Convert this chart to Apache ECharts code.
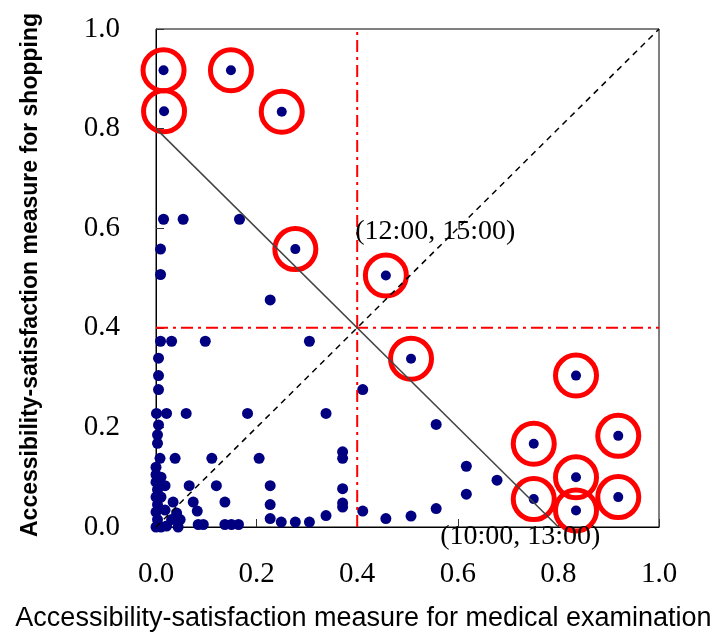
<!DOCTYPE html>
<html><head><meta charset="utf-8">
<script src="https://cdn.jsdelivr.net/npm/echarts@6/dist/echarts.min.js"></script>
<style>html,body{margin:0;padding:0;background:#fff}#c{width:718px;height:637px}</style>
</head><body><div id="c"></div>
<script>
const xTitle = 'Accessibility-satisfaction measure for medical examination';
const yTitle = 'Accessibility-satisfaction measure for shopping';
const tickValues = [0, 0.2, 0.4, 0.6, 0.8, 1.0];

const points = [
 [0.015,0.618],[0.054,0.618],[0.166,0.618],
 [0.009,0.558],[0.009,0.507],
 [0.227,0.456],
 [0.009,0.373],[0.031,0.373],[0.098,0.373],[0.305,0.373],
 [0.005,0.339],[0.005,0.304],[0.005,0.276],[0.411,0.276],
 [0.001,0.228],[0.021,0.228],[0.06,0.228],[0.182,0.228],[0.338,0.228],
 [0.005,0.205],[0.003,0.185],[0.003,0.168],
 [0.008,0.138],[0.038,0.138],[0.111,0.138],[0.205,0.138],[0.371,0.151],[0.371,0.138],
 [0.557,0.206],[0.617,0.122],[0.678,0.094],[0.617,0.066],[0.557,0.037],[0.507,0.022],
 [0.018,0.083],[0.066,0.083],[0.12,0.083],[0.227,0.083],[0.371,0.077],[0.371,0.048],[0.371,0.04],
 [0.034,0.05],[0.074,0.05],[0.082,0.032],[0.137,0.05],[0.227,0.045],[0.411,0.032],[0.457,0.017],
 [0.338,0.023],[0.227,0.017],[0.249,0.01],[0.277,0.01],[0.305,0.01],
 [0.084,0.005],[0.094,0.005],[0.137,0.005],[0.15,0.005],[0.164,0.005],
 [0.041,0.028],[0.031,0.015],[0.048,0.015],[0.021,0.002],[0.044,0.0],[0.018,0.034],
 [0.0,0.12],[0.0,0.105],[0.0,0.09],[0.003,0.075],[0.0,0.06],[0.003,0.045],[0.0,0.03],
 [0.003,0.015],[0.0,0.0],[0.01,0.0],[0.01,0.1],[0.01,0.06]
];
const circled = [
 [0.015,0.917],[0.016,0.835],[0.149,0.917],[0.25,0.834],[0.277,0.558],[0.457,0.505],
 [0.507,0.338],[0.835,0.304],[0.919,0.183],[0.751,0.167],[0.835,0.10],[0.751,0.056],
 [0.919,0.06],[0.835,0.033]
];
const diagonalLine = [[0,0],[1,1]];
const guideLine = [[0,0.8],[0.8,0]];
const vThreshold = [[0.4,0],[0.4,1]];
const hThreshold = [[0,0.4],[1,0.4]];
const annoText = ['(12:00, 15:00)', '(10:00, 13:00)'];
const annoPos = [[0.396,0.594],[0.565,-0.02]];

const chart = echarts.init(document.getElementById('c'));
const serif = '"Liberation Serif","Times New Roman",serif';
const sans = '"Liberation Sans",Arial,sans-serif';
const axisCommon = {
  type: 'value', min: 0, max: 1, interval: 0.2,
  splitLine: {show: false},
  axisLine: {show: true, lineStyle: {color: '#000', width: 1}},
  axisTick: {show: true, inside: true, length: 8, lineStyle: {color: '#333'}},
  axisLabel: {fontFamily: serif, fontSize: 29, color: '#000', formatter: v => v.toFixed(1)}
};
chart.setOption({
  animation: false,
  grid: {left: 156, right: 59, top: 29, bottom: 106, show: true, borderColor: '#000', borderWidth: 1},
  xAxis: Object.assign({}, axisCommon, {
    name: xTitle, nameLocation: 'middle', nameGap: 78,
    nameTextStyle: {fontFamily: sans, fontSize: 27, color: '#000', padding: [0, 88, 0, 0]},
    axisLabel: Object.assign({}, axisCommon.axisLabel, {margin: 33})
  }),
  yAxis: Object.assign({}, axisCommon, {
    name: yTitle, nameLocation: 'middle', nameGap: 114,
    nameTextStyle: {fontFamily: sans, fontSize: 23, fontWeight: 'bold', color: '#000', padding: [0, 0, 0, 6]},
    axisLabel: Object.assign({}, axisCommon.axisLabel, {margin: 36})
  }),
  series: [
    {type: 'line', data: hThreshold, symbol: 'none', lineStyle: {color: '#ff0000', width: 2, type: [12,5,3,5]}},
    {type: 'line', data: vThreshold, symbol: 'none', lineStyle: {color: '#ff0000', width: 2, type: [12,5,3,5]}},
    {type: 'line', data: guideLine, symbol: 'none', lineStyle: {color: '#444', width: 1.5}},
    {type: 'line', data: diagonalLine, symbol: 'none', lineStyle: {color: '#000', width: 1.5, type: [6,5]}},
    {type: 'scatter', data: points, symbolSize: 11, itemStyle: {color: '#000080', opacity: 1}},
    {type: 'scatter', data: circled, symbolSize: 10, itemStyle: {color: '#000080', opacity: 1}},
    {type: 'scatter', data: circled, symbol: 'circle', symbolSize: 41,
      itemStyle: {color: 'rgba(0,0,0,0)', borderColor: '#ff0000', borderWidth: 5, opacity: 1}}
  ]
});
const g = annoText.map((t, i) => {
  const p = chart.convertToPixel({gridIndex: 0}, annoPos[i]);
  return {type: 'text', x: p[0], y: p[1], z: 100,
    style: {text: t, font: '28px ' + serif, fill: '#000', textAlign: 'left', textVerticalAlign: 'middle'}};
});
chart.setOption({graphic: g});
</script></body></html>
